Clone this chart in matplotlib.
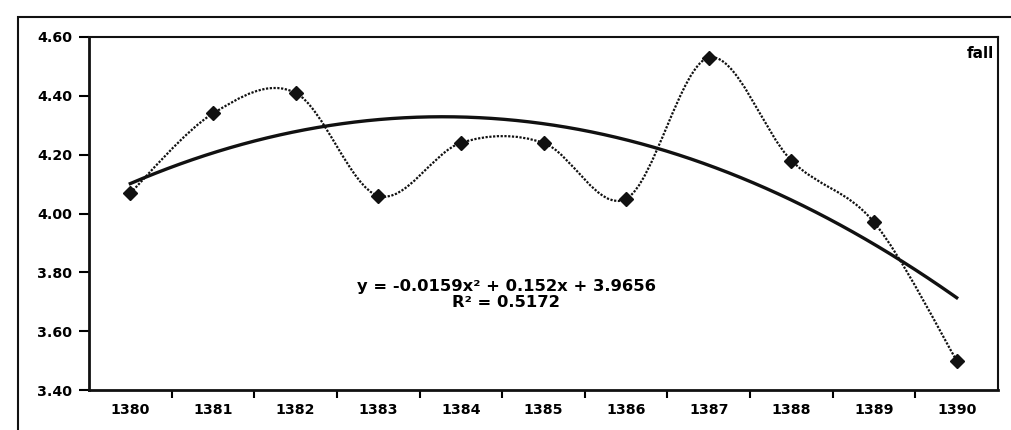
import numpy as np
import matplotlib
matplotlib.use("Agg")
import matplotlib.pyplot as plt
from matplotlib.path import Path
from matplotlib.patches import PathPatch, Rectangle

# ---- data ----
years = ["1380", "1381", "1382", "1383", "1384", "1385", "1386", "1387", "1388", "1389", "1390"]
values = [4.07, 4.34, 4.41, 4.06, 4.24, 4.24, 4.05, 4.53, 4.18, 3.97, 3.50]
# poly trend as printed on the chart (x = 1..11)
trend_coef = [-0.0159, 0.152, 3.9656]
eq_text = "y = -0.0159x² + 0.152x + 3.9656\nR² = 0.5172"

INK = "#111111"
plt.rcParams.update({"font.family": ["DejaVu Sans"],
                     "font.weight": "bold", "font.size": 10.2})

fig = plt.figure(figsize=(10.12, 4.30), dpi=100)
ax = fig.add_axes([89 / 1012, 1 - 390 / 430, 909 / 1012, 353 / 430])

X = np.arange(len(years))

# smoothed (Excel style) connecting line: cubic bezier through the points
pts = np.column_stack([X, values]).astype(float)
verts, codes = [tuple(pts[0])], [Path.MOVETO]
for i in range(len(pts) - 1):
    p0 = pts[i - 1] if i > 0 else pts[i]
    p1, p2 = pts[i], pts[i + 1]
    p3 = pts[i + 2] if i + 2 < len(pts) else pts[i + 1]
    c1 = p1 + (p2 - p0) / 6
    c2 = p2 - (p3 - p1) / 6
    verts += [tuple(c1), tuple(c2), tuple(p2)]
    codes += [Path.CURVE4] * 3
ax.add_patch(PathPatch(Path(verts, codes), fill=False, ec=INK, lw=1.6,
                       ls=(0, (1.0, 0.7)), zorder=3))
ax.plot(X, values, ls="none", marker="D", ms=7, color=INK, zorder=4)

# polynomial trendline
xt = np.linspace(0, len(years) - 1, 200)
ax.plot(xt, np.polyval(trend_coef, xt + 1), color=INK, lw=2.4, zorder=2)

ax.text(0.459, 0.27, eq_text, transform=ax.transAxes, ha="center", va="center",
        fontsize=11.8, fontweight="bold", linespacing=1.12)
ax.text(0.996, 0.975, "fall", transform=ax.transAxes, ha="right", va="top",
        fontsize=11, fontweight="bold")

ax.set_xlim(-0.5, len(years) - 0.5)
ax.set_ylim(3.40, 4.60)
ax.set_yticks(np.arange(3.40, 4.61, 0.20))
ax.set_yticklabels([f"{v:.2f}" for v in np.arange(3.40, 4.61, 0.20)])
ax.set_xticks(X)
ax.set_xticklabels(years)
ax.set_xticks(np.arange(0.5, len(years) - 1, 1.0), minor=True)
ax.tick_params(axis="x", which="major", length=0, pad=9)
ax.tick_params(axis="x", which="minor", length=6, width=1.5, direction="out")
ax.tick_params(axis="y", length=7, width=1.5, direction="out", pad=5)
for s in ax.spines.values():
    s.set_linewidth(1.5)
    s.set_color(INK)
ax.spines["left"].set_linewidth(2)
ax.spines["bottom"].set_linewidth(2)

# outer chart border
fig.patches.append(Rectangle((18 / 1012, -0.05), 1.1, 1 - 17 / 430 + 0.05,
                             transform=fig.transFigure, fill=False, ec=INK, lw=1.5))

fig.savefig("out.png", dpi=100, facecolor="white")
